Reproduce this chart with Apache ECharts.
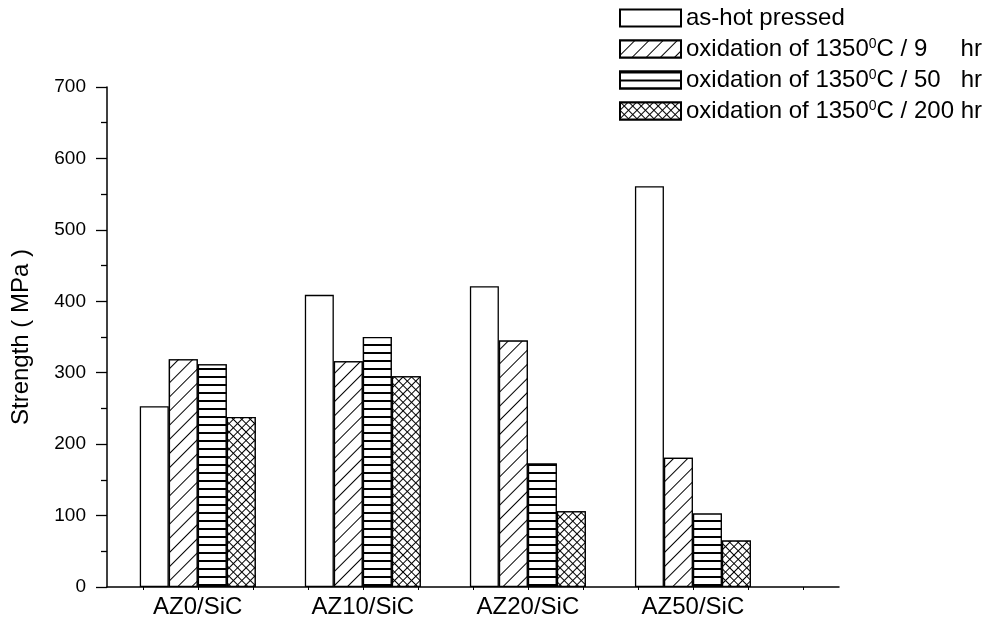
<!DOCTYPE html>
<html>
<head>
<meta charset="utf-8">
<title>Strength after oxidation</title>
<script src="https://cdn.jsdelivr.net/npm/echarts@6/dist/echarts.min.js"></script>
<style>
  html, body { margin: 0; padding: 0; background: #fff; }
  #chart { width: 995px; height: 628px; }
</style>
</head>
<body>
<div id="chart"></div>
<script>
// Composites along the x axis
const categories = ['AZ0/SiC', 'AZ10/SiC', 'AZ20/SiC', 'AZ50/SiC'];

// Flexural strength (MPa) per condition
const asHotPressed   = [253, 409, 421, 561];
const oxidation9h    = [319, 316, 345, 181];
const oxidation50h   = [312, 350, 173, 103];
const oxidation200h  = [238, 295, 106, 65];

const seriesNames = [
  'as-hot pressed',
  'oxidation of 1350°C / 9 hr',
  'oxidation of 1350°C / 50 hr',
  'oxidation of 1350°C / 200 hr'
];

// Legend text, with the degree written as a raised "0"
const legendLabels = [
  '{t|as-hot pressed}',
  '{t|oxidation of 1350}{s|0}{t|C / 9     hr}',
  '{t|oxidation of 1350}{s|0}{t|C / 50   hr}',
  '{t|oxidation of 1350}{s|0}{t|C / 200 hr}'
];

const yTicks = { min: 0, max: 700, step: 100 };

const FONT = '"Liberation Sans", Arial, Helvetica, sans-serif';

// Fill patterns for each condition
const decals = [
  null,
  { symbol: 'rect', symbolSize: 1, dashArrayX: [1, 0], dashArrayY: [1, 8.5],
    rotation: -Math.PI / 4, color: '#000', backgroundColor: '#fff' },
  { symbol: 'rect', symbolSize: 1, dashArrayX: [1, 0], dashArrayY: [1.1, 5.9],
    rotation: 0, color: '#000', backgroundColor: '#fff' },
  { symbol: 'rect', symbolSize: 1, dashArrayX: [4.1, 1], dashArrayY: [4.1, 1],
    rotation: Math.PI / 4, color: '#fff', backgroundColor: '#000' }
];

const values = [asHotPressed, oxidation9h, oxidation50h, oxidation200h];

// Categories sit at x = 1..4 on a value axis; small ticks every third
const catPositions = categories.map((_, i) => i + 1);
const thirdTicks = [];
for (let n = 2; n <= 14; n++) thirdTicks.push(n / 3);

const series = values.map((vals, s) => {
  const itemStyle = { color: '#fff', borderColor: '#000', borderWidth: 1.3 };
  if (decals[s]) itemStyle.decal = decals[s];
  return {
    name: seriesNames[s],
    type: 'bar',
    barWidth: 29,
    barGap: '0%',
    itemStyle: itemStyle,
    emphasis: { disabled: true },
    data: vals.map((v, i) => [catPositions[i], v])
  };
});

const chart = echarts.init(document.getElementById('chart'), null, { renderer: 'canvas' });

chart.setOption({
  animation: false,
  backgroundColor: '#fff',
  textStyle: { fontFamily: FONT, color: '#000' },
  legend: {
    orient: 'vertical',
    left: 619,
    top: 6,
    padding: 0,
    itemWidth: 61,
    itemHeight: 17,
    itemGap: 7,
    selectedMode: false,
    icon: 'rect',
    data: seriesNames,
    formatter: name => legendLabels[seriesNames.indexOf(name)],
    textStyle: {
      fontFamily: FONT,
      color: '#000',
      rich: {
        t: { fontSize: 24, fontFamily: FONT, color: '#000', lineHeight: 24 },
        s: { fontSize: 14, fontFamily: FONT, color: '#000', lineHeight: 24, verticalAlign: 'top' }
      }
    }
  },
  grid: { left: 107, right: 156, top: 87, bottom: 41, containLabel: false },
  xAxis: {
    type: 'value',
    min: 0.45,
    max: 4.885,
    splitLine: { show: false },
    axisLine: { show: true, lineStyle: { color: '#000', width: 1.5 } },
    axisTick: { show: true, customValues: thirdTicks, length: 3, inside: false,
                lineStyle: { color: '#000', width: 1 } },
    axisLabel: {
      customValues: catPositions,
      formatter: v => categories[Math.round(v) - 1] || '',
      fontSize: 24, fontFamily: FONT, color: '#000', margin: 8
    }
  },
  yAxis: {
    type: 'value',
    min: yTicks.min,
    max: yTicks.max,
    interval: yTicks.step,
    name: 'Strength ( MPa )',
    nameLocation: 'middle',
    nameGap: 74,
    nameTextStyle: { fontSize: 24, fontFamily: FONT, color: '#000' },
    splitLine: { show: false },
    axisLine: { show: true, lineStyle: { color: '#000', width: 1.5 } },
    axisTick: { show: true, length: 11, inside: false, lineStyle: { color: '#000', width: 1.3 } },
    minorTick: { show: true, splitNumber: 2, length: 6, lineStyle: { color: '#000', width: 1.3 } },
    axisLabel: { fontSize: 19, fontFamily: FONT, color: '#000', margin: 21 }
  },
  series: series
});
</script>
</body>
</html>
